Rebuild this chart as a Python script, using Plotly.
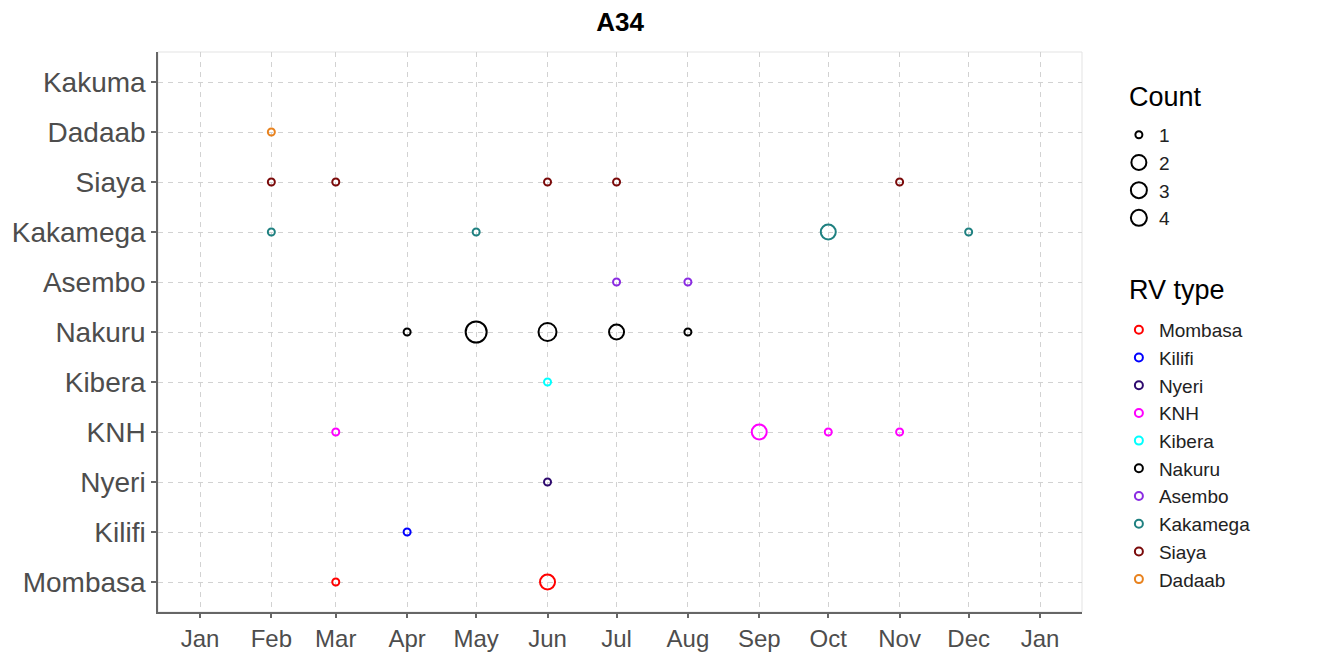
import plotly.graph_objects as go

# ---------------- data ----------------
month_labels = ["Jan", "Feb", "Mar", "Apr", "May", "Jun", "Jul", "Aug",
                "Sep", "Oct", "Nov", "Dec", "Jan"]
month_ticks = ["2019-01-01", "2019-02-01", "2019-03-01", "2019-04-01",
               "2019-05-01", "2019-06-01", "2019-07-01", "2019-08-01",
               "2019-09-01", "2019-10-01", "2019-11-01", "2019-12-01",
               "2020-01-01"]

sites = ["Mombasa", "Kilifi", "Nyeri", "KNH", "Kibera", "Nakuru",
         "Asembo", "Kakamega", "Siaya", "Dadaab", "Kakuma"]
rv_types = ["Mombasa", "Kilifi", "Nyeri", "KNH", "Kibera", "Nakuru",
            "Asembo", "Kakamega", "Siaya", "Dadaab"]
rv_colors = ["#FF0000", "#0000FF", "#2E0A6E", "#FF00FF", "#00FFFF",
             "#000000", "#8A2BE2", "#1F8080", "#7A0A0A", "#E8821E"]

mombasa_dates = ["2019-03-01", "2019-06-01"]
mombasa_counts = [1, 2]
kilifi_dates = ["2019-04-01"]
kilifi_counts = [1]
nyeri_dates = ["2019-06-01"]
nyeri_counts = [1]
knh_dates = ["2019-03-01", "2019-09-01", "2019-10-01", "2019-11-01"]
knh_counts = [1, 2, 1, 1]
kibera_dates = ["2019-06-01"]
kibera_counts = [1]
nakuru_dates = ["2019-04-01", "2019-05-01", "2019-06-01", "2019-07-01", "2019-08-01"]
nakuru_counts = [1, 4, 3, 2, 1]
asembo_dates = ["2019-07-01", "2019-08-01"]
asembo_counts = [1, 1]
kakamega_dates = ["2019-02-01", "2019-05-01", "2019-10-01", "2019-12-01"]
kakamega_counts = [1, 1, 2, 1]
siaya_dates = ["2019-02-01", "2019-03-01", "2019-06-01", "2019-07-01", "2019-11-01"]
siaya_counts = [1, 1, 1, 1, 1]
dadaab_dates = ["2019-02-01"]
dadaab_counts = [1]

count_levels = [1, 2, 3, 4]

series = [
    (mombasa_dates, mombasa_counts),
    (kilifi_dates, kilifi_counts),
    (nyeri_dates, nyeri_counts),
    (knh_dates, knh_counts),
    (kibera_dates, kibera_counts),
    (nakuru_dates, nakuru_counts),
    (asembo_dates, asembo_counts),
    (kakamega_dates, kakamega_counts),
    (siaya_dates, siaya_counts),
    (dadaab_dates, dadaab_counts),
]


def marker_size(c):
    return {1: 7, 2: 15, 3: 18, 4: 21}[c]


FONT = "Liberation Sans, Arial, Helvetica, sans-serif"
fig = go.Figure()

# data points
for name, color, (dates, counts) in zip(rv_types, rv_colors, series):
    fig.add_trace(go.Scatter(
        x=dates, y=[name] * len(dates), mode="markers",
        marker=dict(symbol="circle-open", size=[marker_size(c) for c in counts],
                    color=color, opacity=1, line=dict(width=2, color=color)),
        showlegend=False, name=name,
    ))

# legend: Count
for c in count_levels:
    fig.add_trace(go.Scatter(
        x=[None], y=[None], mode="markers", name=str(c), legend="legend",
        marker=dict(symbol="circle-open", size=marker_size(c), color="black",
                    opacity=1, line=dict(width=2, color="black")),
    ))

# legend: RV type
for name, color in zip(rv_types, rv_colors):
    fig.add_trace(go.Scatter(
        x=[None], y=[None], mode="markers", name=name, legend="legend2",
        marker=dict(symbol="circle-open", size=8, color=color, opacity=1,
                    line=dict(width=2, color=color)),
    ))

grid_col = "#d2d2d2"
axis_col = "#666666"

W, H = 1310, 646  # page body adds an 8px offset

fig.update_layout(
    width=W, height=H,
    margin=dict(l=150, r=236, t=44, b=42, autoexpand=False),
    paper_bgcolor="white", plot_bgcolor="white",
    font=dict(family=FONT, color="#222222"),
    title=dict(text="<b>A34</b>", x=0.5, xref="paper", xanchor="center",
               y=1 - 14 / H, yref="container", yanchor="middle",
               font=dict(size=26, color="black", family=FONT)),
    xaxis=dict(
        type="date",
        range=["2018-12-13 18:00", "2020-01-19 06:00"],
        tickmode="array", tickvals=month_ticks, ticktext=month_labels,
        showgrid=True, gridcolor=grid_col, griddash="5px,5px", gridwidth=1,
        showline=True, linecolor=axis_col, linewidth=1.5,
        ticks="outside", ticklen=4, tickwidth=1.5, tickcolor=axis_col,
        tickfont=dict(size=24, color="#4D4D4D", family=FONT),
        zeroline=False, fixedrange=True, automargin=False,
    ),
    yaxis=dict(
        type="category", categoryorder="array", categoryarray=sites,
        range=[-0.6, 10.6],
        showgrid=True, gridcolor=grid_col, griddash="5px,5px", gridwidth=1,
        showline=True, linecolor=axis_col, linewidth=1.5,
        ticks="outside", ticklen=5, tickwidth=1.5, tickcolor=axis_col,
        tickfont=dict(size=28, color="#4D4D4D", family=FONT),
        zeroline=False, fixedrange=True, automargin=False,
    ),
    legend=dict(
        font=dict(size=19, color="#222222", family=FONT),
        xref="container", yref="container",
        x=0.848, xanchor="left", y=0.833, yanchor="top",
        bgcolor="rgba(0,0,0,0)", itemsizing="trace",
    ),
    legend2=dict(
        font=dict(size=19, color="#222222", family=FONT),
        xref="container", yref="container",
        x=0.848, xanchor="left", y=0.531, yanchor="top",
        bgcolor="rgba(0,0,0,0)", itemsizing="trace",
    ),
    annotations=[
        dict(text="Count", xref="paper", yref="paper", x=1.0487, y=0.9196,
             xanchor="left", yanchor="middle", showarrow=False,
             font=dict(size=27, color="black", family=FONT)),
        dict(text="RV type", xref="paper", yref="paper", x=1.0487, y=0.575,
             xanchor="left", yanchor="middle", showarrow=False,
             font=dict(size=27, color="black", family=FONT)),
    ],
    shapes=[dict(type="rect", xref="paper", yref="paper", x0=0, x1=1, y0=0, y1=1,
                 line=dict(color="#e3e3e3", width=1), layer="below")],
)

fig.write_html("out.html")
